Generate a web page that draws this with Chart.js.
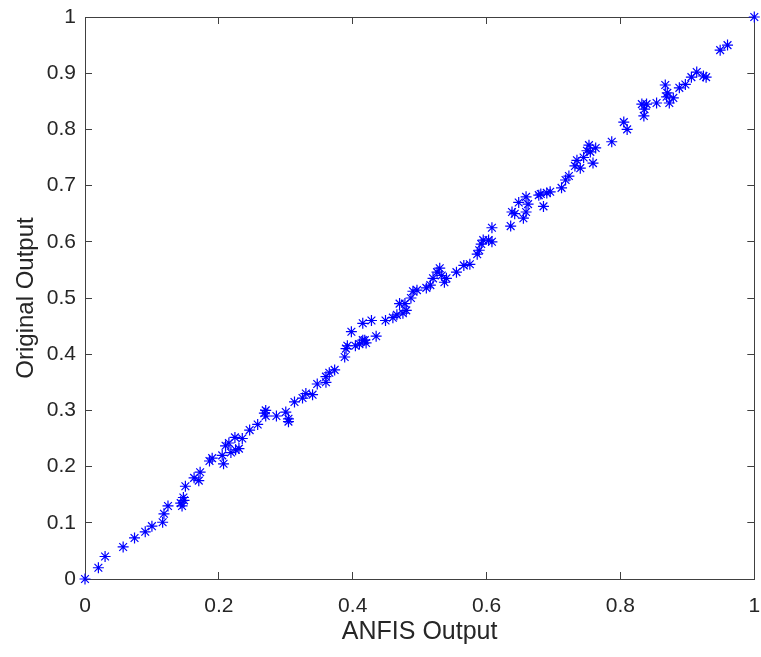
<!DOCTYPE html>
<html>
<head>
<meta charset="utf-8">
<script src="https://cdn.jsdelivr.net/npm/chart.js@4.4.1/dist/chart.umd.min.js"></script>
<style>
  html, body { margin: 0; padding: 0; background: #fff; overflow: hidden; }
  #wrap { width: 761px; height: 657px; position: relative; }
</style>
</head>
<body>
<div id="wrap"><canvas id="scatterChart"></canvas></div>
<script>
// values
const anfisOutput = [
    0.00, 0.02, 0.03, 0.057, 0.074, 0.09, 0.10, 0.116, 0.118, 0.124,
    0.143, 0.145, 0.147, 0.148, 0.150, 0.163, 0.170, 0.172, 0.186, 0.19,
    0.205, 0.207, 0.21, 0.215, 0.218, 0.225, 0.23, 0.224, 0.235, 0.246,
    0.258, 0.268, 0.27, 0.27, 0.286, 0.30, 0.304, 0.304, 0.313, 0.325,
    0.33, 0.34, 0.347, 0.36, 0.36, 0.365, 0.373, 0.388, 0.392, 0.39,
    0.398, 0.404, 0.41, 0.418, 0.42, 0.415, 0.415, 0.428, 0.435, 0.449,
    0.46, 0.466, 0.47, 0.475, 0.48, 0.478, 0.487, 0.49, 0.496, 0.51,
    0.516, 0.52, 0.526, 0.53, 0.533, 0.537, 0.54, 0.555, 0.566, 0.575,
    0.586, 0.589, 0.592, 0.595, 0.603, 0.608, 0.608, 0.636, 0.642, 0.638,
    0.648, 0.655, 0.659, 0.659, 0.662, 0.678, 0.681, 0.685, 0.69, 0.695,
    0.712, 0.718, 0.723, 0.732, 0.735, 0.74, 0.745, 0.75, 0.753, 0.755,
    0.759, 0.763, 0.787, 0.805, 0.81, 0.835, 0.836, 0.839, 0.832, 0.854,
    0.867, 0.87, 0.869, 0.873, 0.879, 0.888, 0.897, 0.906, 0.914, 0.924,
    0.928, 0.949, 0.96, 1.00
];
const originalOutput = [
    0.00, 0.02, 0.04, 0.057, 0.073, 0.084, 0.094, 0.101, 0.116, 0.13,
    0.135, 0.13, 0.145, 0.14, 0.165, 0.18, 0.175, 0.19, 0.21, 0.215,
    0.22, 0.205, 0.237, 0.242, 0.225, 0.23, 0.232, 0.252, 0.25, 0.265,
    0.275, 0.295, 0.30, 0.29, 0.29, 0.297, 0.285, 0.28, 0.315, 0.322,
    0.33, 0.328, 0.347, 0.35, 0.36, 0.367, 0.372, 0.395, 0.415, 0.41,
    0.44, 0.415, 0.418, 0.425, 0.42, 0.425, 0.455, 0.46, 0.432, 0.46,
    0.465, 0.47, 0.49, 0.473, 0.478, 0.49, 0.50, 0.512, 0.514, 0.518,
    0.523, 0.535, 0.546, 0.553, 0.54, 0.528, 0.535, 0.546, 0.558, 0.56,
    0.578, 0.585, 0.596, 0.603, 0.603, 0.60, 0.625, 0.628, 0.65, 0.653,
    0.67, 0.642, 0.653, 0.68, 0.667, 0.683, 0.685, 0.663, 0.687, 0.689,
    0.696, 0.71, 0.717, 0.735, 0.745, 0.731, 0.75, 0.762, 0.772, 0.76,
    0.74, 0.767, 0.778, 0.813, 0.80, 0.824, 0.836, 0.845, 0.845, 0.847,
    0.879, 0.865, 0.858, 0.847, 0.856, 0.874, 0.88, 0.893, 0.902, 0.895,
    0.893, 0.941, 0.95, 1.00
];
const xTickStep = 0.2;
const yTickStep = 0.1;

const axisColor = '#404040';
const textColor = '#262626';
const fontFamily = '"Liberation Sans", Arial, Helvetica, sans-serif';

const points = anfisOutput.map((x, i) => ({ x: x, y: originalOutput[i] }));

function fmt(v) {
    return String(Number(v.toFixed(2)));
}

// drop the label overhang padding so layout.padding decides the plot box
function noOverhang(s) {
    s.paddingTop = 0;
    s.paddingBottom = 0;
    s.paddingLeft = 0;
    s.paddingRight = 0;
}

// box axes (top/right) only carry the inward ticks
function boxAxis(position, fitter) {
    return {
        type: 'linear',
        position: position,
        min: 0,
        max: 1,
        ticks: { display: false, stepSize: position === 'top' ? xTickStep : yTickStep },
        grid: { drawOnChartArea: false, tickLength: -7, color: axisColor, lineWidth: 1 },
        border: { display: true, color: axisColor, width: 1 },
        afterFit: s => { fitter(s); noOverhang(s); }
    };
}

new Chart(document.getElementById('scatterChart'), {
    type: 'scatter',
    data: {
        datasets: [{
            label: 'Original Output',
            data: points,
            pointStyle: 'star',
            pointRadius: 5.5,
            pointHoverRadius: 5.5,
            borderColor: '#0000ff',
            backgroundColor: '#0000ff',
            pointBorderWidth: 1.2,
            clip: false
        }]
    },
    options: {
        responsive: true,
        maintainAspectRatio: false,
        animation: false,
        layout: { padding: { top: 17, right: 5, bottom: 8, left: 10 } },
        plugins: {
            legend: { display: false },
            tooltip: { enabled: false },
            title: { display: false }
        },
        scales: {
            x: {
                type: 'linear',
                position: 'bottom',
                min: 0,
                max: 1,
                ticks: {
                    stepSize: xTickStep,
                    color: textColor,
                    font: { family: fontFamily, size: 21 },
                    padding: 22,
                    callback: v => fmt(v)
                },
                grid: { drawOnChartArea: false, tickLength: -7, color: axisColor, lineWidth: 1 },
                border: { display: true, color: axisColor, width: 1 },
                title: {
                    display: true,
                    text: 'ANFIS Output',
                    color: textColor,
                    font: { family: fontFamily, size: 25 },
                    padding: { top: 0, bottom: 2 }
                },
                afterFit: s => { s.height = 70; noOverhang(s); }
            },
            y: {
                type: 'linear',
                position: 'left',
                min: 0,
                max: 1,
                ticks: {
                    stepSize: yTickStep,
                    color: textColor,
                    font: { family: fontFamily, size: 21 },
                    padding: 16,
                    callback: v => fmt(v)
                },
                grid: { drawOnChartArea: false, tickLength: -7, color: axisColor, lineWidth: 1 },
                border: { display: true, color: axisColor, width: 1 },
                title: {
                    display: true,
                    text: 'Original Output',
                    color: textColor,
                    font: { family: fontFamily, size: 24 },
                    padding: { top: 2, bottom: 0 }
                },
                afterFit: s => { s.width = 75; noOverhang(s); }
            },
            x2: boxAxis('top', s => { s.height = 0; }),
            y2: boxAxis('right', s => { s.width = 0; })
        }
    }
});
</script>
</body>
</html>
